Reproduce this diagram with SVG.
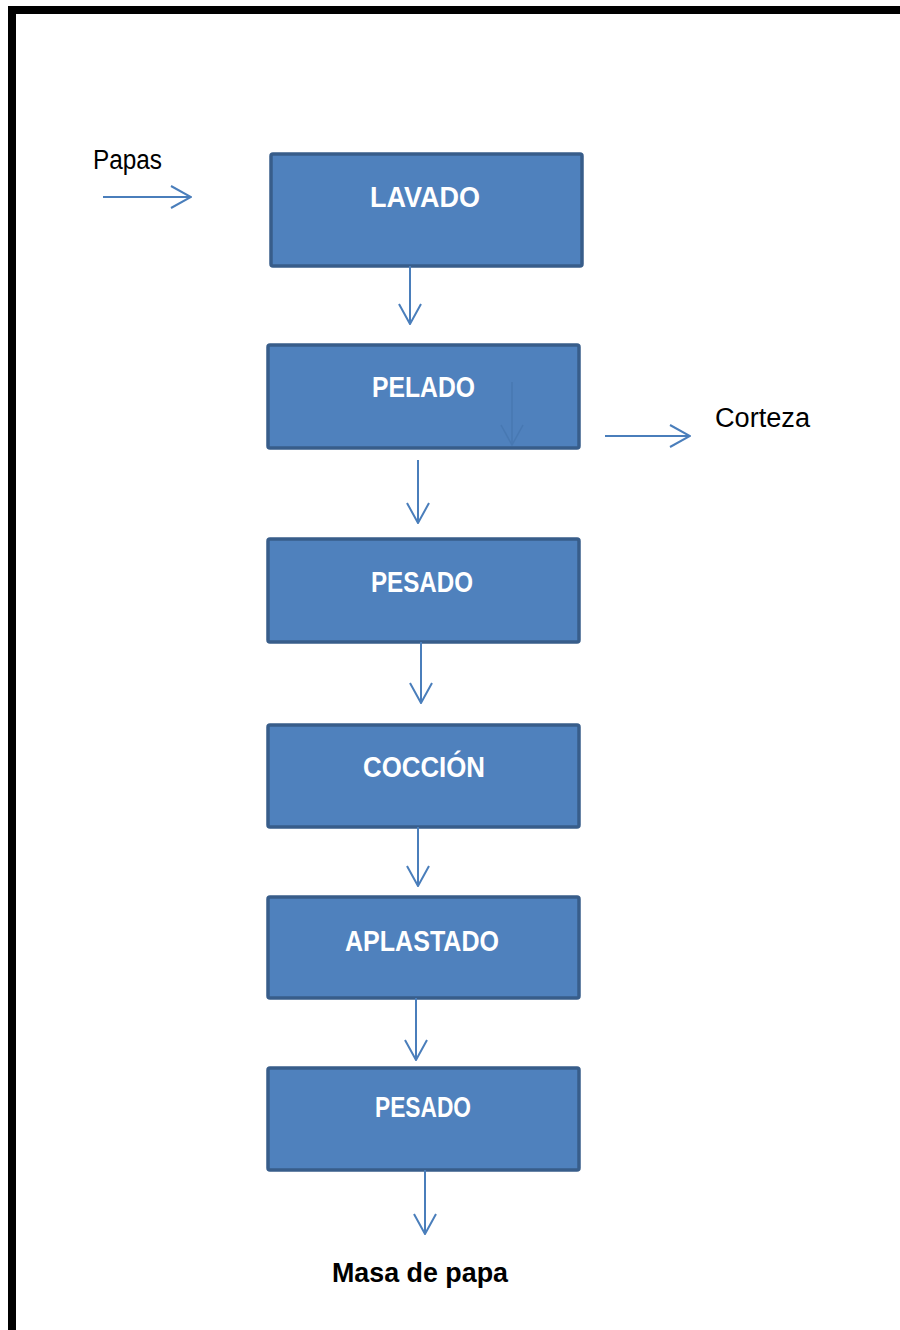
<svg xmlns="http://www.w3.org/2000/svg" width="900" height="1330" viewBox="0 0 900 1330">
<style>
.box{fill:#4f81bd;stroke:#385d8a;stroke-width:3.5}
.bt{font-family:"Liberation Sans",Arial,sans-serif;font-weight:bold;font-size:29px;fill:#ffffff;text-anchor:middle}
.lbl{font-family:"Liberation Sans",Arial,sans-serif;font-size:27px;fill:#000000}
.con{stroke:#4a7ebb;stroke-width:2;fill:none;marker-end:url(#ah)}
</style>
<defs>
<marker id="ah" viewBox="0 0 22 24" refX="21" refY="12" markerWidth="22" markerHeight="24" markerUnits="userSpaceOnUse" orient="auto">
<path d="M1,1 L21,12 L1,23" fill="none" stroke="#4a7ebb" stroke-width="2"/>
</marker>
<marker id="ahf" viewBox="0 0 22 24" refX="21" refY="12" markerWidth="22" markerHeight="24" markerUnits="userSpaceOnUse" orient="auto">
<path d="M1,1 L21,12 L1,23" fill="none" stroke="#4272aa" stroke-width="1.5"/>
</marker>
</defs>
<rect x="0" y="0" width="900" height="1330" fill="#ffffff"/>
<g id="frame">
<rect x="8" y="6" width="892" height="8" fill="#000"/>
<rect x="8" y="6" width="8" height="1324" fill="#000"/>
</g>
<g id="lavado"><rect class="box" x="271" y="154" width="311" height="112" rx="2"/><text class="bt" x="425" y="207" textLength="110" lengthAdjust="spacingAndGlyphs">LAVADO</text></g>
<g id="pelado"><rect class="box" x="268" y="345" width="311" height="103" rx="2"/><text class="bt" x="423.5" y="397" textLength="103" lengthAdjust="spacingAndGlyphs">PELADO</text></g>
<g id="pesado1"><rect class="box" x="268" y="539" width="311" height="103" rx="2"/><text class="bt" x="422" y="592" textLength="102" lengthAdjust="spacingAndGlyphs">PESADO</text></g>
<g id="coccion"><rect class="box" x="268" y="725" width="311" height="102" rx="2"/><text class="bt" x="424" y="777" textLength="122" lengthAdjust="spacingAndGlyphs">COCCIÓN</text></g>
<g id="aplastado"><rect class="box" x="268" y="897" width="311" height="101" rx="2"/><text class="bt" x="422" y="951" textLength="154" lengthAdjust="spacingAndGlyphs">APLASTADO</text></g>
<g id="pesado2"><rect class="box" x="268" y="1068" width="311" height="102" rx="2"/><text class="bt" x="423" y="1117" textLength="96" lengthAdjust="spacingAndGlyphs">PESADO</text></g>
<g id="papas"><text class="lbl" x="93" y="169" font-size="24" textLength="69" lengthAdjust="spacingAndGlyphs">Papas</text></g>
<g id="corteza"><text class="lbl" x="715" y="427" textLength="95" lengthAdjust="spacingAndGlyphs">Corteza</text></g>
<g id="masa"><text class="lbl" x="332" y="1282" font-weight="bold" font-size="30" textLength="176" lengthAdjust="spacingAndGlyphs">Masa de papa</text></g>
<g id="connectors">
<line class="con" x1="103" y1="197" x2="191" y2="197"/>
<line class="con" x1="410" y1="266" x2="410" y2="324"/>
<line class="con" x1="605" y1="436" x2="690" y2="436"/>
<line class="con" x1="418" y1="460" x2="418" y2="523"/>
<line class="con" x1="421" y1="642" x2="421" y2="703"/>
<line class="con" x1="418" y1="827" x2="418" y2="886"/>
<line class="con" x1="416" y1="998" x2="416" y2="1060"/>
<line class="con" x1="425" y1="1170" x2="425" y2="1234"/>
<line x1="512" y1="382" x2="512" y2="445" stroke="#4272aa" stroke-width="1.5" opacity="0.55" marker-end="url(#ahf)"/>
</g>
</svg>
